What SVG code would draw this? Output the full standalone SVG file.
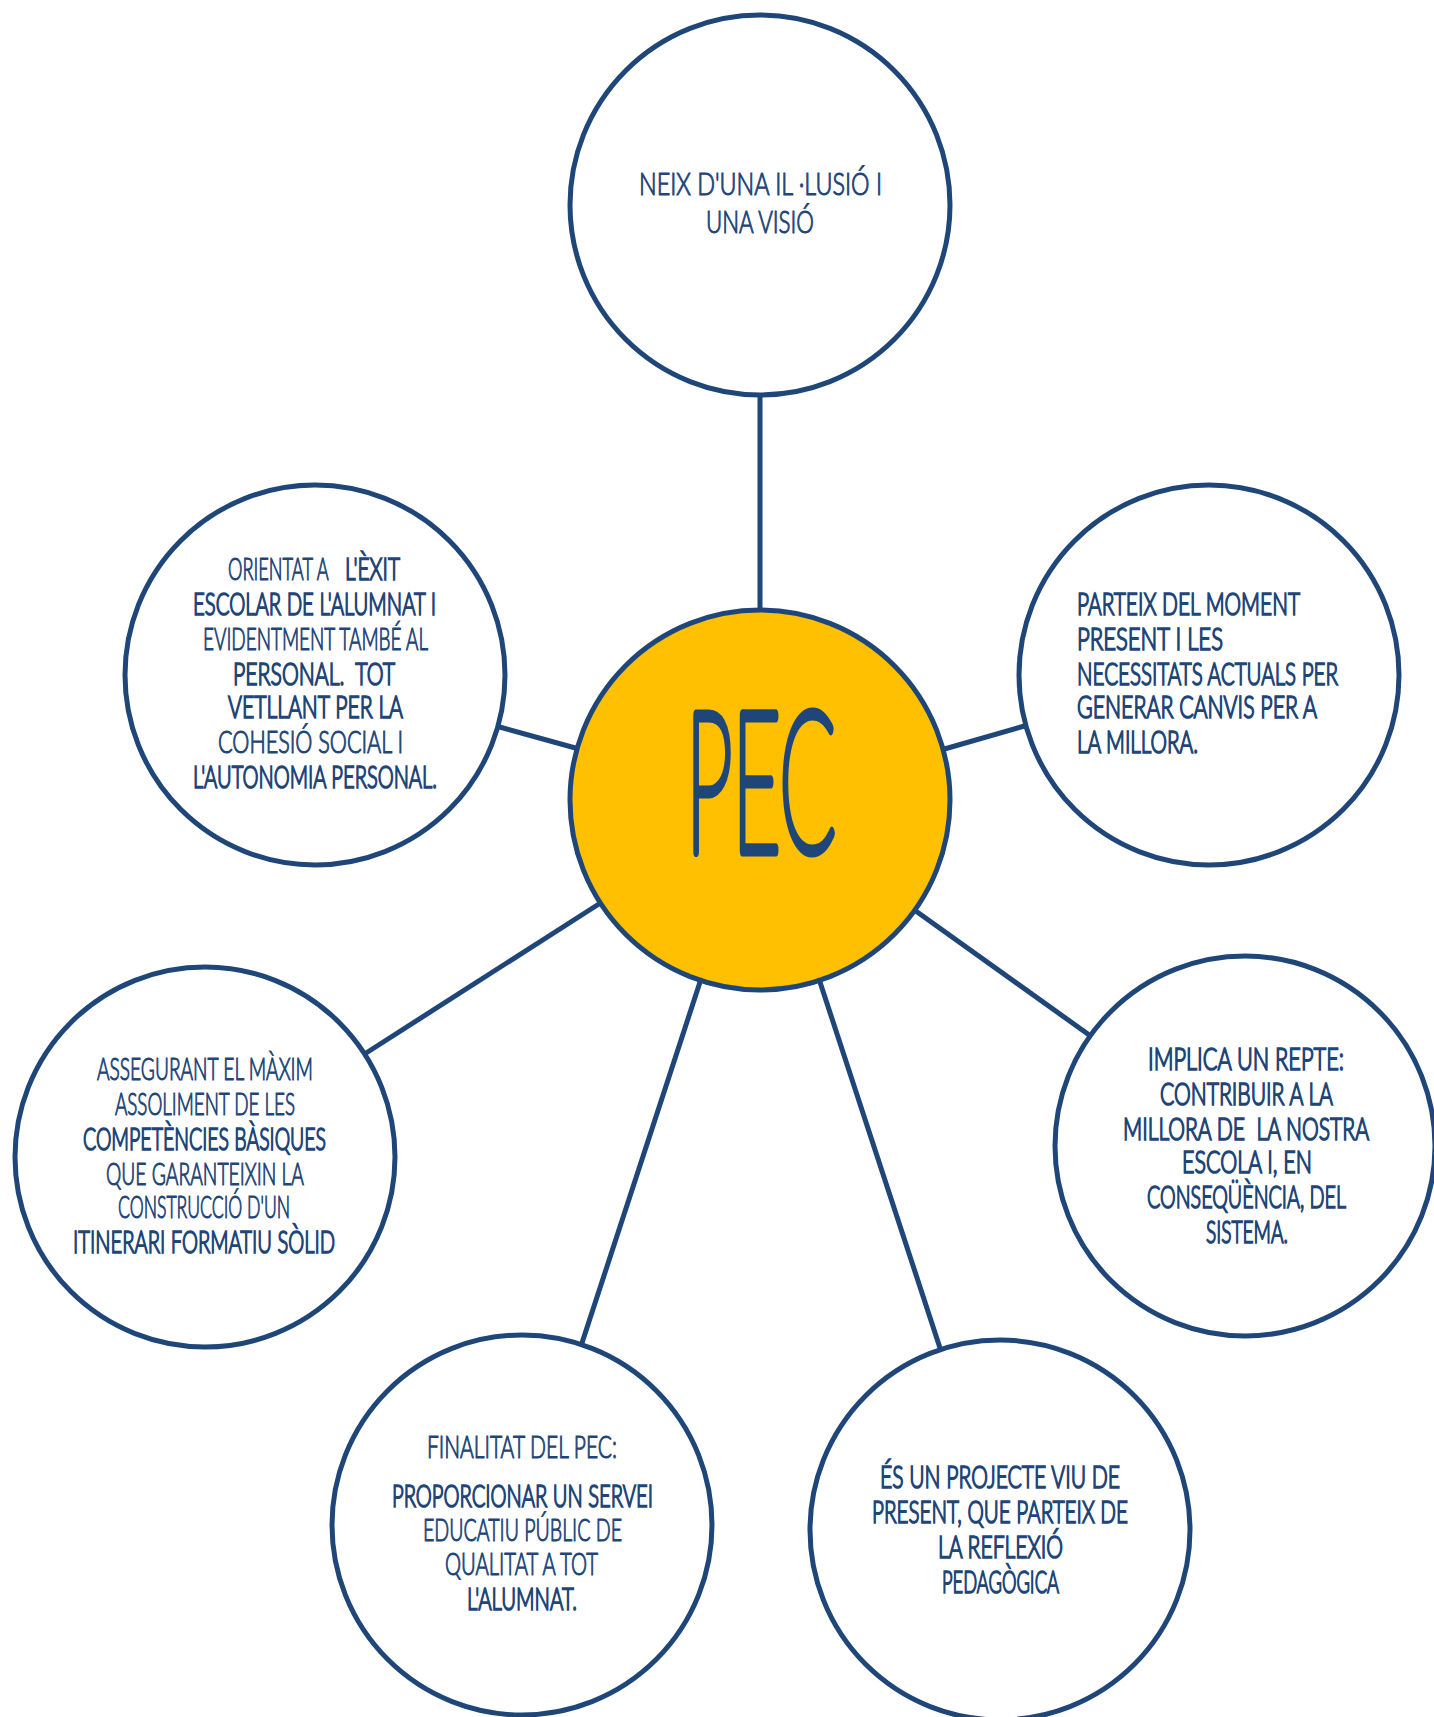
<svg xmlns="http://www.w3.org/2000/svg" width="1434" height="1717" viewBox="0 0 1434 1717">
<style>
.node{fill:#ffffff;stroke:#1f4678;stroke-width:5}
.hub{fill:#fec000;stroke:#1f4678;stroke-width:5}
.con line{stroke:#1f4678;stroke-width:5}
.t{font-family:Lato,"Liberation Sans",sans-serif;font-size:31px;font-weight:300;fill:#1f4678;stroke:#1f4678;stroke-width:1.1;white-space:pre}
.b{stroke-width:1.7}
.pec{font-family:Lato,"Liberation Sans",sans-serif;font-size:194px;font-weight:100;fill:#1f4678;stroke:#1f4678;stroke-width:11;stroke-linejoin:round;stroke-linecap:round}
</style>
<rect width="1434" height="1717" fill="#ffffff"/>
<g id="connectors" class="con">
<line x1="760" y1="395" x2="760" y2="610"/>
<line x1="579" y1="749" x2="496" y2="726"/>
<line x1="941" y1="750" x2="1028" y2="725"/>
<line x1="602" y1="902" x2="363" y2="1055"/>
<line x1="913" y1="909" x2="1092" y2="1037"/>
<line x1="701" y1="979" x2="581" y2="1346"/>
<line x1="819" y1="979" x2="941" y2="1351"/>
</g>
<g id="node-top">
<circle class="node" cx="760" cy="205" r="190"/>
<text class="t" x="639" y="195" textLength="243" lengthAdjust="spacingAndGlyphs">NEIX D'UNA IL ·LUSIÓ I</text>
<text class="t" x="706" y="233" textLength="108" lengthAdjust="spacingAndGlyphs">UNA VISIÓ</text>
</g>
<g id="node-pec">
<circle class="hub" cx="760" cy="800" r="190"/>
<text class="pec" x="686" y="851" textLength="150" lengthAdjust="spacingAndGlyphs">PEC</text>
</g>
<g id="node-left-upper">
<circle class="node" cx="315" cy="675" r="190"/>
<text class="t" y="580"><tspan x="228" textLength="105" lengthAdjust="spacingAndGlyphs">ORIENTAT A </tspan><tspan class="b" x="345" textLength="55" lengthAdjust="spacingAndGlyphs">L'ÈXIT</tspan></text>
<text class="t b" x="193" y="615" textLength="243" lengthAdjust="spacingAndGlyphs">ESCOLAR DE L'ALUMNAT I</text>
<text class="t" x="203" y="650" textLength="225" lengthAdjust="spacingAndGlyphs">EVIDENTMENT TAMBÉ AL</text>
<text class="t b" x="233" y="685" textLength="162" lengthAdjust="spacingAndGlyphs">PERSONAL.  TOT</text>
<text class="t b" x="228" y="718" textLength="175" lengthAdjust="spacingAndGlyphs">VETLLANT PER LA</text>
<text class="t" x="218" y="753" textLength="185" lengthAdjust="spacingAndGlyphs">COHESIÓ SOCIAL I</text>
<text class="t b" x="193" y="788" textLength="244" lengthAdjust="spacingAndGlyphs">L'AUTONOMIA PERSONAL.</text>
</g>
<g id="node-right-upper">
<circle class="node" cx="1209" cy="675" r="190"/>
<text class="t b" x="1077" y="615" textLength="223" lengthAdjust="spacingAndGlyphs">PARTEIX DEL MOMENT</text>
<text class="t b" x="1077" y="650" textLength="146" lengthAdjust="spacingAndGlyphs">PRESENT I LES</text>
<text class="t b" x="1077" y="685" textLength="261" lengthAdjust="spacingAndGlyphs">NECESSITATS ACTUALS PER</text>
<text class="t b" x="1077" y="718" textLength="240" lengthAdjust="spacingAndGlyphs">GENERAR CANVIS PER A</text>
<text class="t b" x="1077" y="753" textLength="121" lengthAdjust="spacingAndGlyphs">LA MILLORA.</text>
</g>
<g id="node-left-lower">
<circle class="node" cx="205" cy="1157" r="190"/>
<text class="t" x="97" y="1080" textLength="216" lengthAdjust="spacingAndGlyphs">ASSEGURANT EL MÀXIM</text>
<text class="t" x="115" y="1115" textLength="180" lengthAdjust="spacingAndGlyphs">ASSOLIMENT DE LES</text>
<text class="t b" x="83" y="1150" textLength="243" lengthAdjust="spacingAndGlyphs">COMPETÈNCIES BÀSIQUES</text>
<text class="t" x="106" y="1185" textLength="198" lengthAdjust="spacingAndGlyphs">QUE GARANTEIXIN LA</text>
<text class="t" x="118" y="1218" textLength="172" lengthAdjust="spacingAndGlyphs">CONSTRUCCIÓ D'UN</text>
<text class="t b" x="73" y="1253" textLength="262" lengthAdjust="spacingAndGlyphs">ITINERARI FORMATIU SÒLID</text>
</g>
<g id="node-right-lower">
<circle class="node" cx="1245" cy="1146" r="190"/>
<text class="t b" x="1148" y="1070" textLength="196" lengthAdjust="spacingAndGlyphs">IMPLICA UN REPTE:</text>
<text class="t b" x="1160" y="1105" textLength="173" lengthAdjust="spacingAndGlyphs">CONTRIBUIR A LA</text>
<text class="t b" x="1123" y="1140" textLength="246" lengthAdjust="spacingAndGlyphs">MILLORA DE  LA NOSTRA</text>
<text class="t b" x="1182" y="1173" textLength="130" lengthAdjust="spacingAndGlyphs">ESCOLA I, EN</text>
<text class="t b" x="1147" y="1208" textLength="199" lengthAdjust="spacingAndGlyphs">CONSEQÜÈNCIA, DEL</text>
<text class="t b" x="1206" y="1243" textLength="82" lengthAdjust="spacingAndGlyphs">SISTEMA.</text>
</g>
<g id="node-bottom-left">
<circle class="node" cx="522" cy="1525" r="190"/>
<text class="t" x="427" y="1458" textLength="190" lengthAdjust="spacingAndGlyphs">FINALITAT DEL PEC:</text>
<text class="t b" x="392" y="1507" textLength="261" lengthAdjust="spacingAndGlyphs">PROPORCIONAR UN SERVEI</text>
<text class="t" x="423" y="1541" textLength="199" lengthAdjust="spacingAndGlyphs">EDUCATIU PÚBLIC DE</text>
<text class="t" x="445" y="1575" textLength="153" lengthAdjust="spacingAndGlyphs">QUALITAT A TOT</text>
<text class="t b" x="467" y="1610" textLength="110" lengthAdjust="spacingAndGlyphs">L'ALUMNAT.</text>
</g>
<g id="node-bottom-right">
<circle class="node" cx="1000" cy="1530" r="190"/>
<text class="t b" x="880" y="1488" textLength="240" lengthAdjust="spacingAndGlyphs">ÉS UN PROJECTE VIU DE</text>
<text class="t b" x="872" y="1523" textLength="256" lengthAdjust="spacingAndGlyphs">PRESENT, QUE PARTEIX DE</text>
<text class="t b" x="938" y="1558" textLength="125" lengthAdjust="spacingAndGlyphs">LA REFLEXIÓ</text>
<text class="t b" x="942" y="1593" textLength="117" lengthAdjust="spacingAndGlyphs">PEDAGÒGICA</text>
</g>
</svg>
